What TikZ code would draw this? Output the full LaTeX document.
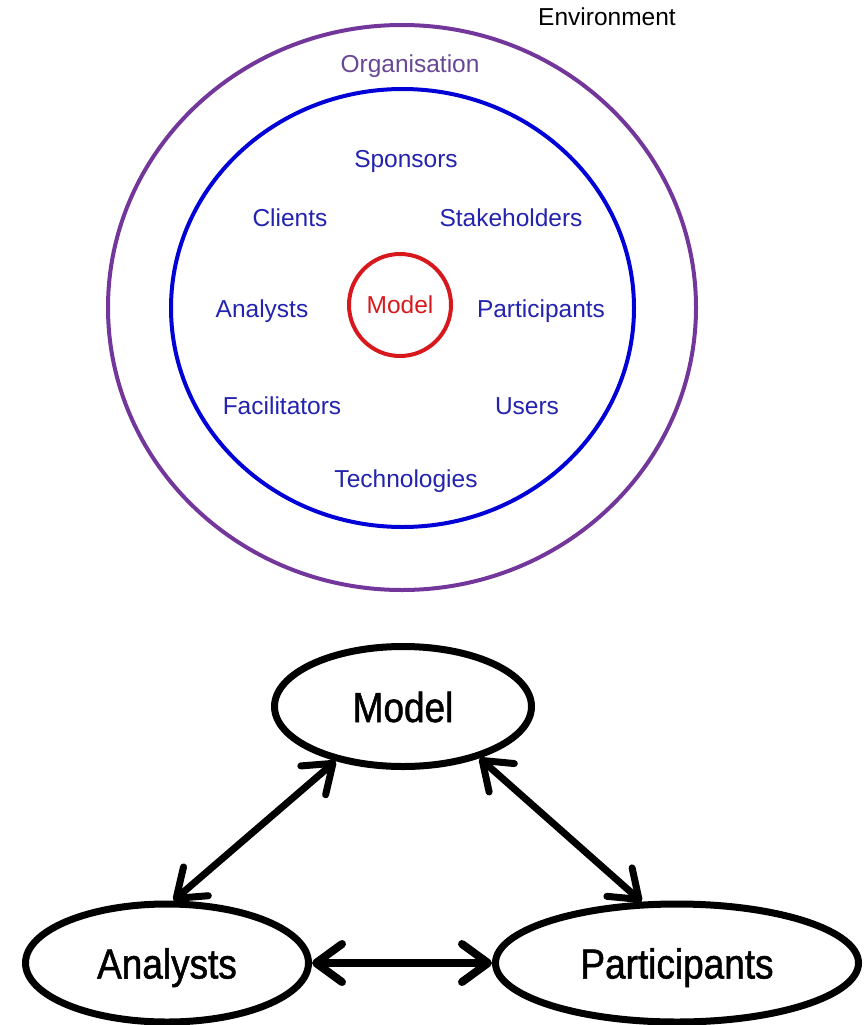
\documentclass[tikz,border=0pt]{standalone}
\usepackage{fontspec}
\setmainfont{Liberation Sans}
\newfontfamily\narrowfont[FakeStretch=0.88,FakeBold=1.2]{Liberation Sans}
\usetikzlibrary{arrows.meta,shapes.geometric}

\definecolor{orgpurple}{RGB}{115,55,155}
\definecolor{orgtext}{RGB}{105,70,150}
\definecolor{ringblue}{RGB}{0,0,215}
\definecolor{rolecol}{RGB}{35,35,175}
\definecolor{modelred}{RGB}{215,25,30}

\begin{document}
\begin{tikzpicture}[x=1pt,y=-1pt,
  lbl/.style={anchor=base,inner sep=0pt,font=\fontsize{24.5}{28}\selectfont},
  role/.style={lbl,text=rolecol},
  bubble/.style={draw,line width=7pt,ellipse,inner sep=0pt,text depth=0pt,text height=31pt,
    font=\narrowfont\fontsize{42}{48}\selectfont},
  link/.style={line width=7pt,
    {Straight Barb[length=26pt,width=38pt,round]}-{Straight Barb[length=26pt,width=38pt,round]}}
]
\useasboundingbox (0,0) rectangle (867,1025);

% --- nested context rings ---
\draw[orgpurple,line width=4pt] (402,307.5) ellipse [x radius=294pt, y radius=282.5pt];
\draw[ringblue,line width=4pt] (402.5,308) ellipse [x radius=231.5pt, y radius=219pt];

\node[lbl] (env) at (607,26) {Environment};
\node[lbl,text=orgtext] (org) at (410,73) {Organisation};

\node[role] (spons) at (406,167) {Sponsors};
\node[role] (cli) at (290,226) {Clients};
\node[role] (stake) at (511,226) {Stakeholders};
\node[role] (ana) at (262,317) {Analysts};
\node[role] (part) at (541,317) {Participants};
\node[role] (faci) at (282,414) {Facilitators};
\node[role] (users) at (527,414) {Users};
\node[role] (tech) at (406,487) {Technologies};

\node[draw=modelred,line width=4pt,circle,minimum size=102pt,inner sep=0pt,
  text=modelred,font=\fontsize{24.5}{28}\selectfont,text depth=0pt] (core) at (400,305) {Model};

% --- model / analysts / participants triangle ---
\node[bubble,minimum width=257pt,minimum height=120pt] (md) at (403,706.5) {Model};
\node[bubble,minimum width=283pt,minimum height=118pt] (an) at (167,963) {Analysts};
\node[bubble,minimum width=363pt,minimum height=118pt] (pa) at (677,963) {Participants};

\draw[link] (an.84) -- (md.219);
\draw[link] (md.326) -- (pa.120);
\draw[link,line width=8pt] (an.east) -- (pa.west);
\end{tikzpicture}
\end{document}
